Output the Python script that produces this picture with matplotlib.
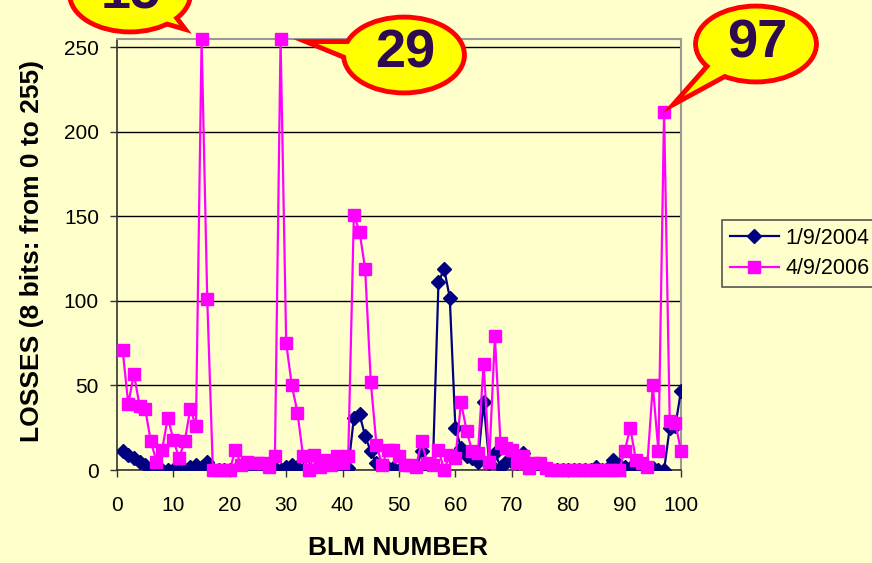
import matplotlib
matplotlib.use("Agg")
import matplotlib.pyplot as plt
from matplotlib.patches import Ellipse, Polygon
import numpy as np

plt.rcParams['font.family'] = ['Liberation Sans', 'DejaVu Sans']

# BLM losses, two measurement dates (8 bit counts)
blm = np.arange(1, 101)
loss_2004 = [11, 9, 7, 5, 3, 1, 0, 0, 0, 0,
             0, 0, 2, 3, 2, 5, 0, 0, 0, 0,
             0, 0, 1, 0, 1, 0, 0, 1, 0, 2,
             3, 2, 0, 0, 0, 0, 0, 0, 1, 0,
             1, 31, 33, 20, 11, 4, 2, 1, 1, 0,
             1, 0, 0, 11, 1, 2, 111, 119, 102, 25,
             13, 8, 7, 5, 40, 4, 10, 2, 5, 5,
             4, 10, 3, 1, 1, 0, 0, 0, 0, 0,
             0, 0, 0, 0, 2, 0, 1, 6, 3, 2,
             1, 2, 1, 0, 1, 0, 0, 25, 26, 47]
loss_2006 = [71, 39, 57, 38, 36, 17, 5, 12, 31, 18,
             7, 17, 36, 26, 255, 101, 0, 0, 0, 0,
             12, 3, 5, 4, 4, 4, 2, 8, 255, 75,
             50, 34, 8, 0, 9, 2, 6, 3, 8, 4,
             8, 151, 141, 119, 52, 15, 3, 12, 12, 8,
             3, 3, 2, 17, 4, 3, 12, 0, 9, 7,
             40, 23, 11, 10, 63, 5, 79, 16, 13, 12,
             4, 8, 1, 4, 4, 1, 0, 0, 0, 0,
             0, 0, 0, 0, 0, 0, 0, 0, 0, 11,
             25, 6, 4, 2, 50, 11, 212, 29, 28, 11]
series_labels = ["1/9/2004", "4/9/2006"]

# callouts: text, ellipse centre, tail tip, tail base (pixels, top-left origin)
callouts = [("15", (130, -6), (179, 25), [(148, 16), (166, 8)]),
            ("29", (404, 55), (318, 44), [(358, 44), (362, 62)]),
            ("97", (756, 44), (684, 96), [(714, 62), (728, 72)])]

bg = '#FFFFCC'
W, H = 872, 563
fig = plt.figure(figsize=(W / 100, H / 100), dpi=100, facecolor=bg)
ax = fig.add_axes([117 / W, 1 - 470 / H, (681 - 117) / W, (470 - 39) / H])
ax.set_facecolor(bg)

ax.plot(blm, loss_2004, color='#000080', lw=1.6, marker='D', ms=7.5,
        mec='#000080', mfc='#000080', label=series_labels[0], zorder=3)
ax.plot(blm, loss_2006, color='#FF00FF', lw=1.6, marker='s', ms=8.8,
        mec='#FF00FF', mfc='#FF00FF', label=series_labels[1], zorder=4,
        clip_on=False)

ax.set_xlim(0, 100)
ax.set_ylim(0, 255)
ax.set_xticks(range(0, 101, 10))
ax.set_yticks(range(0, 251, 50))
ax.yaxis.grid(True, color='black', lw=1)
ax.set_axisbelow(True)
ax.tick_params(axis='both', labelsize=15, length=5, width=1, color='#333333')
ax.tick_params(axis='x', pad=14)
ax.tick_params(axis='y', pad=8)
for s in ['left', 'bottom']:
    ax.spines[s].set_color('#333333')
    ax.spines[s].set_linewidth(1.2)
for s in ['top', 'right']:
    ax.spines[s].set_color('#999999')
    ax.spines[s].set_linewidth(1.5)

fig.text(32 / W, 1 - 251 / H, "LOSSES (8 bits: from 0 to 255)", rotation=90,
         fontsize=19, fontweight='bold', ha='center', va='center')
fig.text(398 / W, 1 - 548 / H, "BLM NUMBER", fontsize=19, fontweight='bold',
         ha='center', va='center')

leg = ax.legend(loc='upper left', bbox_to_anchor=(722 / W, 1 - 220 / H),
                bbox_transform=fig.transFigure, fontsize=15.5, frameon=True,
                fancybox=False, framealpha=1, facecolor=bg, edgecolor='#555555',
                handlelength=2.3, handletextpad=0.3, borderpad=0.35,
                labelspacing=0.45, borderaxespad=0)
leg.get_frame().set_linewidth(1.2)

# overlay in pixel coords for the speech bubbles
ov = fig.add_axes([0, 0, 1, 1], zorder=10)
ov.set_xlim(0, W)
ov.set_ylim(H, 0)
ov.axis('off')
for txt, c, tip, base in callouts:
    tail = [base[0], tip, base[1]]
    # red outline first, then yellow fill on top so the outline joins up
    ov.add_patch(Ellipse(c, 116, 71, fc='#FF0000', ec='#FF0000', lw=7))
    ov.add_patch(Polygon(tail, closed=True, fc='#FF0000', ec='#FF0000', lw=7,
                         joinstyle='miter'))
    ov.add_patch(Ellipse(c, 116, 71, fc='#FFFF00', ec='none'))
    ov.add_patch(Polygon(tail, closed=True, fc='#FFFF00', ec='none'))
    ov.text(c[0] + 1, c[1] - 1, txt, fontsize=39, fontweight='bold',
            color='#2E0A50', ha='center', va='center')

fig.savefig('out.png', dpi=100, facecolor=bg)
